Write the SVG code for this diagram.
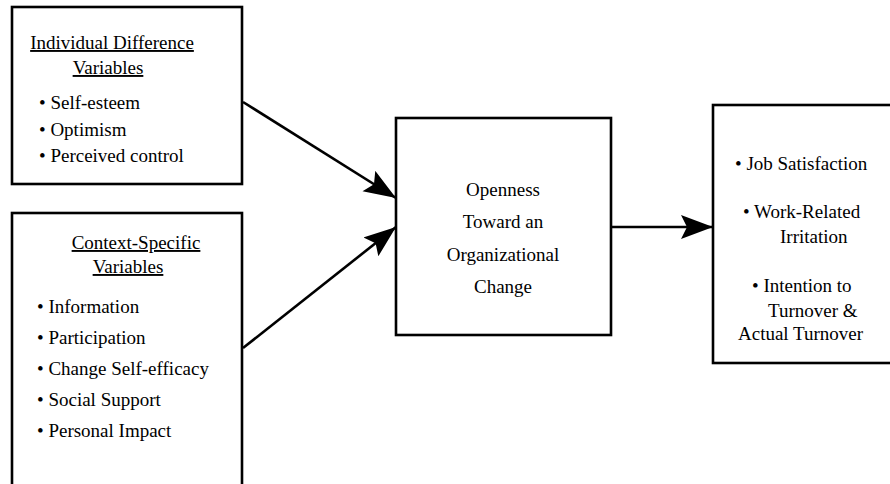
<svg xmlns="http://www.w3.org/2000/svg" width="890" height="484" viewBox="0 0 890 484">
<defs>
<style>
.box{fill:#fff;stroke:#000;stroke-width:2.6}
text{font-family:"Liberation Serif","Times New Roman",serif;font-size:19px;fill:#000}
.t{text-decoration:underline}
.m{text-anchor:middle}
.c{stroke:#000;stroke-width:2.6;fill:none}
</style>
<marker id="ah" markerUnits="userSpaceOnUse" markerWidth="34" markerHeight="26" refX="32" refY="12" orient="auto">
<path d="M0,0 L32,12 L0,24 L6,12 z" fill="#000"/>
</marker>
</defs>
<rect width="890" height="484" fill="#fff"/>
<g id="connectors">
<line class="c" x1="243" y1="102" x2="396" y2="198" marker-end="url(#ah)"/>
<line class="c" x1="243" y1="348" x2="396" y2="227" marker-end="url(#ah)"/>
<line class="c" x1="611" y1="227" x2="713" y2="227" marker-end="url(#ah)"/>
</g>
<g id="individual">
<rect class="box" x="12" y="7" width="230" height="177"/>
<text class="t m" x="112" y="49">Individual Difference</text>
<text class="t m" x="108" y="74">Variables</text>
<text x="39" y="109">• Self-esteem</text>
<text x="39" y="136">• Optimism</text>
<text x="39" y="162">• Perceived control</text>
</g>
<g id="context">
<rect class="box" x="12" y="213" width="230" height="290"/>
<text class="t m" x="136" y="249">Context-Specific</text>
<text class="t m" x="128" y="273">Variables</text>
<text x="37" y="313">• Information</text>
<text x="37" y="344">• Participation</text>
<text x="37" y="375">• Change Self-efficacy</text>
<text x="37" y="406">• Social Support</text>
<text x="37" y="437">• Personal Impact</text>
</g>
<g id="openness">
<rect class="box" x="396" y="118" width="215" height="217"/>
<text class="m" x="503" y="196">Openness</text>
<text class="m" x="503" y="228">Toward an</text>
<text class="m" x="503" y="261">Organizational</text>
<text class="m" x="503" y="293">Change</text>
</g>
<g id="outcomes">
<rect class="box" x="713" y="105" width="190" height="258"/>
<text x="735" y="170">• Job Satisfaction</text>
<text x="743" y="218">• Work-Related</text>
<text x="780" y="243">Irritation</text>
<text x="752" y="292">• Intention to</text>
<text x="768" y="317">Turnover &amp;</text>
<text x="738" y="340">Actual Turnover</text>
</g>
</svg>
